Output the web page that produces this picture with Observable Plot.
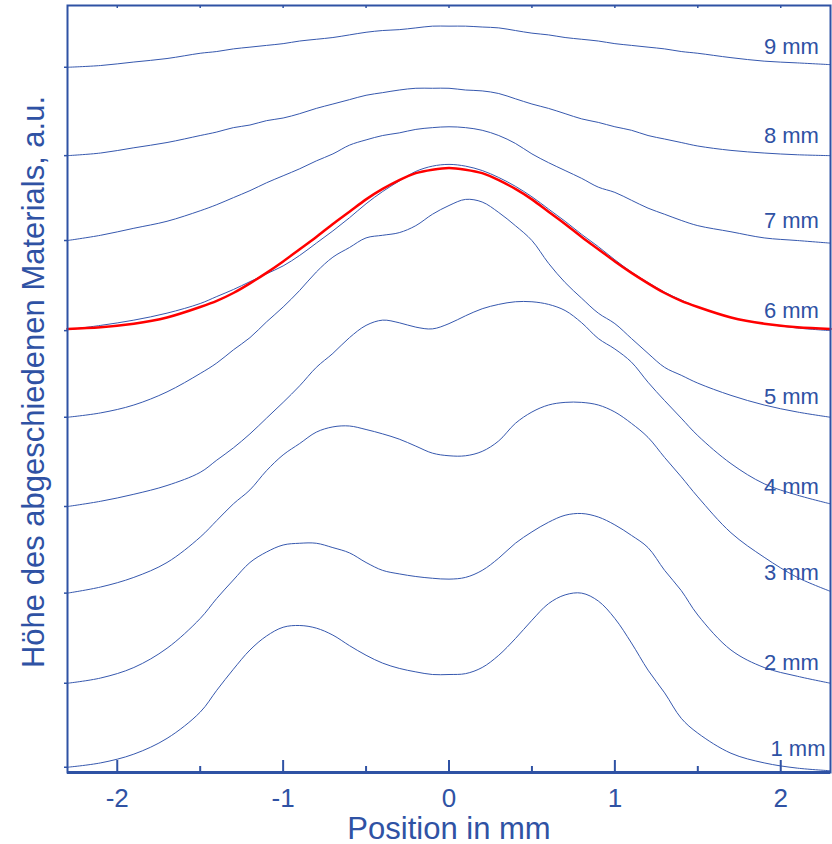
<!DOCTYPE html>
<html><head><meta charset="utf-8">
<script src="https://cdn.jsdelivr.net/npm/d3@7"></script>
<script src="https://cdn.jsdelivr.net/npm/@observablehq/plot@0.6"></script>
<style>body{margin:0;background:#fff}</style>
</head><body><div id="chart"></div>
<script>
// Position in mm (common sampling grid)
const xs = [-2.3,-2.1,-1.9,-1.7,-1.5,-1.4,-1.3,-1.2,-1.1,-1.0,-0.9,-0.8,-0.7,-0.6,-0.5,-0.4,-0.3,-0.2,-0.1,0,0.1,0.2,0.3,0.4,0.5,0.6,0.7,0.8,0.9,1.0,1.1,1.2,1.3,1.4,1.5,1.7,1.9,2.1,2.3];

// Profile heights (a.u.) above each curve's own baseline
const h1mm = [0,0.05,0.15,0.33,0.63,0.88,1.12,1.34,1.50,1.60,1.62,1.59,1.51,1.39,1.28,1.19,1.13,1.09,1.06,1.06,1.07,1.14,1.28,1.47,1.68,1.87,1.97,1.99,1.90,1.70,1.42,1.11,0.85,0.56,0.39,0.16,0.05,-0.01,-0.04];
const h2mm = [0,0.06,0.18,0.40,0.74,0.97,1.18,1.38,1.50,1.58,1.60,1.60,1.55,1.49,1.38,1.29,1.25,1.22,1.20,1.19,1.21,1.29,1.43,1.60,1.73,1.84,1.92,1.94,1.90,1.81,1.69,1.55,1.29,1.06,0.78,0.38,0.18,0.08,0];
const h3mm = [0,0.07,0.18,0.35,0.64,0.83,1.02,1.18,1.40,1.58,1.71,1.84,1.90,1.91,1.87,1.82,1.76,1.68,1.60,1.57,1.57,1.62,1.74,1.94,2.07,2.15,2.18,2.18,2.15,2.07,1.94,1.78,1.55,1.33,1.10,0.69,0.41,0.18,0.02];
const h4mm = [0,0.06,0.14,0.24,0.39,0.53,0.67,0.83,1.01,1.19,1.38,1.59,1.75,1.93,2.07,2.13,2.10,2.05,2.03,2.09,2.18,2.26,2.31,2.34,2.34,2.31,2.24,2.10,1.92,1.80,1.65,1.42,1.21,1.01,0.81,0.49,0.26,0.13,0.03];
const h5mm = [0,0.05,0.14,0.29,0.50,0.62,0.77,0.91,1.09,1.26,1.45,1.66,1.83,1.94,2.05,2.08,2.11,2.19,2.32,2.42,2.49,2.46,2.34,2.19,2.02,1.76,1.54,1.36,1.19,1.07,0.90,0.73,0.57,0.48,0.39,0.25,0.14,0.06,0];
const h6mm = [0.01,0.06,0.12,0.20,0.31,0.39,0.47,0.56,0.65,0.74,0.86,1.00,1.14,1.29,1.45,1.59,1.71,1.82,1.88,1.90,1.88,1.83,1.75,1.65,1.53,1.39,1.25,1.10,0.96,0.81,0.67,0.55,0.44,0.35,0.27,0.15,0.08,0.03,0];
const h7mm = [0,0.06,0.14,0.22,0.34,0.41,0.49,0.57,0.66,0.74,0.82,0.91,0.99,1.09,1.15,1.20,1.23,1.27,1.29,1.30,1.29,1.26,1.20,1.11,0.99,0.89,0.80,0.71,0.61,0.55,0.46,0.37,0.30,0.23,0.17,0.10,0.03,0.00,-0.03];
const h8mm = [0,0.03,0.09,0.15,0.23,0.27,0.32,0.35,0.40,0.43,0.48,0.54,0.59,0.64,0.69,0.72,0.75,0.77,0.77,0.77,0.75,0.74,0.71,0.65,0.59,0.54,0.48,0.42,0.38,0.33,0.29,0.23,0.19,0.15,0.11,0.06,0.03,0.01,0];
const h9mm = [0,0.02,0.06,0.10,0.16,0.18,0.21,0.23,0.25,0.27,0.30,0.32,0.34,0.37,0.40,0.42,0.43,0.45,0.47,0.47,0.47,0.46,0.45,0.42,0.39,0.37,0.34,0.32,0.30,0.27,0.25,0.23,0.21,0.18,0.16,0.11,0.07,0.05,0.03];
// Red fit curve over the 6 mm profile
const fit6mm = [0.02,0.04,0.08,0.15,0.27,0.34,0.43,0.54,0.66,0.79,0.93,1.07,1.22,1.36,1.50,1.62,1.72,1.80,1.84,1.86,1.84,1.80,1.72,1.62,1.50,1.36,1.22,1.07,0.93,0.79,0.66,0.54,0.43,0.34,0.27,0.15,0.08,0.04,0.02];

// Stacking offsets (a.u.) of each curve
const baselines = [0.06,1.02,2.05,3.04,4.06,5.05,6.08,7.05,8.06];
const labels = ["1 mm","2 mm","3 mm","4 mm","5 mm","6 mm","7 mm","8 mm","9 mm"];
const majorTicks = [-2,-1,0,1,2];
const minorTicks = [-1.5,-0.5,0.5,1.5];
const xTitle = "Position in mm";
const yTitle = "Höhe des abgeschiedenen Materials, a.u.";

const heights = [h1mm,h2mm,h3mm,h4mm,h5mm,h6mm,h7mm,h8mm,h9mm];
const rows = labels.flatMap((lab, i) => xs.map((x, j) => ({x, y: baselines[i] + heights[i][j], curve: lab})));
const fitRows = xs.map((x, j) => ({x, y: baselines[5] + fit6mm[j]}));
const labelRows = labels.map((lab, i) => ({label: lab, y: baselines[i]}));

const W = 832, H = 844, mt = 5, mb = 72, ml = 67, mr = 2;
const frameH = H - mt - mb, frameW = W - ml - mr;
const blue = "#3658ae";
const axisBlue = "#2f52a4";

const chart = Plot.plot({
  width: W, height: H,
  marginTop: mt, marginBottom: mb, marginLeft: ml, marginRight: mr,
  x: {domain: [-2.3, 2.3], axis: null},
  y: {domain: [0, 8.766], axis: null},
  style: {fontFamily: "'Liberation Sans', Arial, sans-serif", background: "#fff"},
  marks: [
    Plot.line(rows, {x: "x", y: "y", z: "curve", stroke: blue, strokeWidth: 1, curve: "catmull-rom"}),
    Plot.line(fitRows, {x: "x", y: "y", stroke: "#ff0000", strokeWidth: 2.5, curve: "natural"}),
    Plot.frame({stroke: axisBlue, strokeWidth: 2}),
    Plot.ruleY([0], {stroke: axisBlue, strokeWidth: 3}),
    Plot.ruleX(majorTicks, {stroke: axisBlue, strokeWidth: 2, insetTop: frameH - 12}),
    Plot.ruleX(minorTicks, {stroke: axisBlue, strokeWidth: 2, insetTop: frameH - 6}),
    Plot.ruleX(majorTicks.concat(minorTicks), {stroke: axisBlue, strokeWidth: 1.5, insetBottom: frameH - 3}),
    Plot.ruleY(baselines, {stroke: axisBlue, strokeWidth: 1.5, insetRight: frameW - 4, dx: -3}),
    Plot.text(majorTicks, {x: d => d, text: d => String(d), frameAnchor: "bottom", lineAnchor: "bottom", dy: 34, fontSize: 26, fill: axisBlue}),
    Plot.text([xTitle], {text: d => d, frameAnchor: "bottom", lineAnchor: "bottom", dy: 66, fontSize: 31, fill: axisBlue}),
    Plot.text([yTitle], {text: d => d, frameAnchor: "left", textAnchor: "middle", rotate: -90, dx: -33, dy: -7, fontSize: 31, fill: axisBlue}),
    Plot.text(labelRows.slice(1), {x: 2.23, y: "y", text: "label", textAnchor: "end", lineAnchor: "bottom", dy: -13, fontSize: 22, fill: axisBlue}),
    Plot.text(labelRows.slice(0, 1), {x: 2.27, y: "y", text: "label", textAnchor: "end", lineAnchor: "bottom", dy: -11, fontSize: 22, fill: axisBlue})
  ]
});
document.getElementById("chart").appendChild(chart);
</script>
</body></html>
